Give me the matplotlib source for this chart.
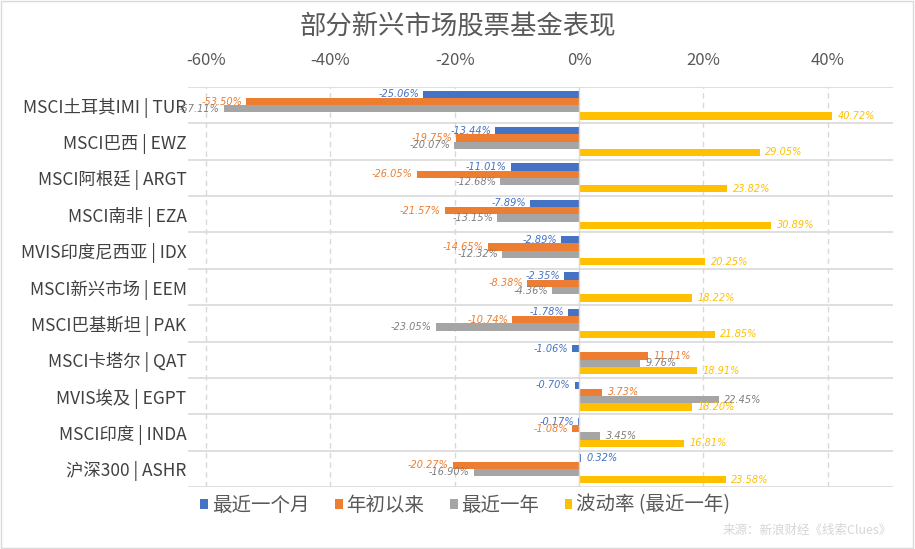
import numpy as np
import matplotlib
matplotlib.use("Agg")
import matplotlib.pyplot as plt
from matplotlib.patches import Rectangle

plt.rcParams['font.family'] = ['Noto Sans CJK SC', 'DejaVu Sans']

categories = ['MSCI土耳其IMI | TUR', 'MSCI巴西 | EWZ', 'MSCI阿根廷 | ARGT', 'MSCI南非 | EZA',
              'MVIS印度尼西亚 | IDX', 'MSCI新兴市场 | EEM', 'MSCI巴基斯坦 | PAK', 'MSCI卡塔尔 | QAT',
              'MVIS埃及 | EGPT', 'MSCI印度 | INDA', '沪深300 | ASHR']
last_month = [-25.06, -13.44, -11.01, -7.89, -2.89, -2.35, -1.78, -1.06, -0.70, -0.17, 0.32]
ytd = [-53.50, -19.75, -26.05, -21.57, -14.65, -8.38, -10.74, 11.11, 3.73, -1.08, -20.27]
last_year = [-57.11, -20.07, -12.68, -13.15, -12.32, -4.36, -23.05, 9.76, 22.45, 3.45, -16.90]
volatility = [40.72, 29.05, 23.82, 30.89, 20.25, 18.22, 21.85, 18.91, 18.20, 16.81, 23.58]

series_names = ['最近一个月', '年初以来', '最近一年', '波动率 (最近一年)']
bar_colors = ['#4472C4', '#ED7D31', '#A5A5A5', '#FFC000']
text_colors = ['#4472C4', '#ED7D31', '#7F7F7F', '#FFC000']
xticks = [-60, -40, -20, 0, 20, 40]

fig = plt.figure(figsize=(9.15, 5.49), dpi=100)
ax = fig.add_axes([188 / 915, 1 - 487 / 549, (893 - 188) / 915, (487 - 87) / 549])

n = len(categories)
y = np.arange(n)
h = 0.2
all_series = [last_month, ytd, last_year, volatility]
for k, vals in enumerate(all_series):
    pos = y - 0.3 + k * h
    ax.barh(pos, vals, height=h, color=bar_colors[k], label=series_names[k], zorder=3)
    for p, v in zip(pos, vals):
        off = 4 if v >= 0 else -3
        ax.annotate('%.2f%%' % v, (v, p), xytext=(off, 0), textcoords='offset points',
                    ha='left' if v >= 0 else 'right', va='center', fontsize=7,
                    style='italic', color=text_colors[k], family=['DejaVu Sans'],
                    annotation_clip=False, zorder=4)

ax.set_ylim(n - 0.5, -0.5)
ax.set_xlim(-62.9, 50.5)
ax.set_yticks(y)
ax.set_yticklabels(categories, fontsize=12.5, color='#404040')
ax.set_xticks(xticks)
ax.set_xticklabels(['%d%%' % t for t in xticks], fontsize=12, color='#595959')
ax.xaxis.tick_top()
ax.tick_params(axis='both', length=0)
ax.tick_params(axis='x', pad=13)
ax.tick_params(axis='y', pad=1)

for s in ax.spines.values():
    s.set_visible(False)

for t in xticks:
    if t != 0:
        ax.axvline(t, color='#D9D9D9', lw=1, ls=(0, (4, 3)), zorder=1)
ax.axvline(0, color='#D9D9D9', lw=1, zorder=5)
for b in np.arange(-0.5, n, 1):
    ax.axhline(b, color='#D9D9D9', lw=1.2, zorder=1)

fig.text(0.5, 0.951, '部分新兴市场股票基金表现', ha='center', va='center', fontsize=19, color='#595959')

leg = fig.legend(loc='center left', bbox_to_anchor=(0.219, 0.080), ncol=4, frameon=False,
                 fontsize=14, handlelength=0.4, handleheight=0.4, handletextpad=0.2,
                 columnspacing=1.3, borderaxespad=0, borderpad=0)
for txt in leg.get_texts():
    txt.set_color('#595959')

fig.text(0.975, 0.033, '来源：新浪财经《线索Clues》', ha='right', va='center', fontsize=9, color='#D6D6D6')

fig.patches.append(Rectangle((0.001, 0.002), 0.997, 0.996, transform=fig.transFigure,
                             fill=False, edgecolor='#D9D9D9', lw=1))

fig.savefig('out.png', dpi=100)
